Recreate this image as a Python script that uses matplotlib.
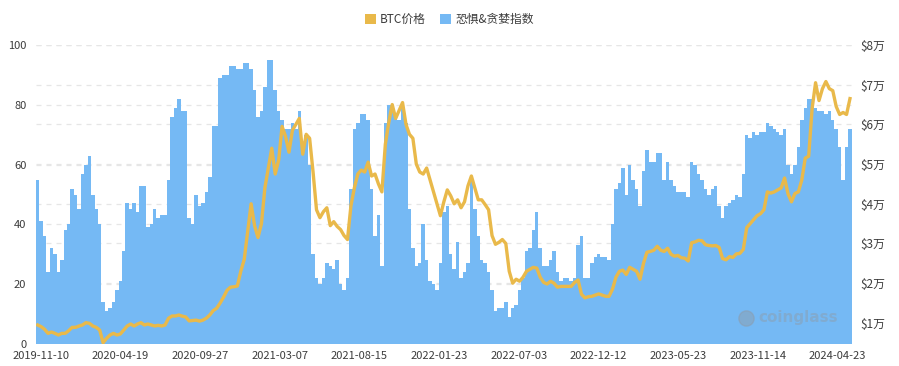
import numpy as np
import matplotlib.pyplot as plt
from matplotlib.patches import Patch
from matplotlib.transforms import blended_transform_factory

plt.rcParams['font.family'] = ['Noto Sans CJK SC', 'DejaVu Sans']

# weekly samples (Nov 2019 -> May 2024)
fear_greed = [
    55, 41, 36, 24, 32, 30, 24, 28, 38, 40, 52, 50, 45, 57, 60, 63, 50, 45, 40, 14,
    11, 12, 14, 18, 21, 31, 47, 45, 47, 44, 53, 53, 39, 40, 45, 42, 43, 43, 55, 76,
    79, 82,
    78, 78, 42, 40, 50, 46, 47, 51, 56, 73, 73, 89, 90, 90, 93, 93, 92, 92, 94, 94,
    92, 85, 76, 78, 86, 95, 95, 85, 78, 75, 72, 72, 74, 72, 78, 65, 70, 60, 30, 22,
    20, 22,
    27, 26, 25, 28, 20, 18, 22, 52, 72, 74, 77, 77, 75, 52, 36, 43, 26, 74, 80, 80,
    77, 75, 79, 74, 45, 32, 26, 27, 40, 28, 21, 20, 18, 27, 44, 46, 30, 25, 34, 22,
    24, 27,
    55, 45, 36, 28, 27, 24, 18, 11, 12, 12, 14, 9, 12, 13, 18, 22, 31, 32, 38, 44,
    32, 26, 26, 28, 31, 24, 21, 22, 22, 21, 22, 33, 36, 22, 22, 27, 29, 30, 29, 29,
    28, 40,
    52, 54, 59, 50, 60, 55, 52, 46, 58, 65, 61, 61, 64, 64, 55, 61, 55, 53, 51, 51,
    51, 49, 61, 60, 57, 55, 52, 50, 52, 53, 46, 42, 46, 47, 48, 50, 49, 57, 70, 69,
    71, 70,
    71, 71, 74, 73, 72, 71, 70, 72, 60, 57, 60, 66, 75, 79, 82, 82, 79, 78, 78, 77,
    78, 75, 72, 66, 55, 66, 72,
]

btc_price = [
    9470, 9050, 8380, 7370, 7700, 7370, 6950, 7370, 7370, 8040, 8880, 8880, 9220, 9470,
    10060, 9890, 9220, 8880, 8210, 5000, 6110, 6950, 7370, 6950, 7200, 8210, 9220, 9720,
    9220, 9720, 10060, 9470, 9720, 9470, 9220, 9390, 9220, 9470, 11150, 11740, 11740, 11990,
    11700, 11500, 10500, 10600, 10700, 10450, 10700, 11200, 12000, 13100, 13700, 15000,
    16500, 18200, 19000, 19100, 19300, 23000, 26000, 33000, 40000, 34500, 31500, 35000,
    44000, 49000, 54000, 47500, 51000, 59500, 57000, 53000, 58500, 60000, 61500, 52500,
    57500, 56500, 48000, 38500, 36500, 38000,
    39000, 34500, 35500, 34300, 33500, 32000, 31000, 39500, 44000, 47500, 48500, 48000,
    50500, 47000, 47500, 45000, 43000, 55000, 60500, 65000, 61500, 63500, 65500, 60000,
    57500, 56500, 50000, 48000, 47500, 49000, 46000, 43000, 40000, 37000, 40500, 43500,
    42000, 40000, 41000, 39000, 40500, 44500,
    47000, 44000, 41000, 41000, 39800, 38500, 32000, 29800, 30300, 31000, 30000, 23000,
    20000, 21000, 20500, 21500, 23000, 23500, 24000, 23800, 21500, 20200, 19800, 20500,
    20000, 19000, 19200, 19200, 19200, 19200, 20200, 20800, 17200, 16300, 16600, 16700,
    17000, 17300, 17000, 16700, 16700, 18500,
    21500, 23000, 23300, 22200, 24000, 23500, 23000, 21000, 25000, 27800, 28000, 28300,
    29300, 28300, 28000, 28800, 27300, 26800, 27000, 26400, 26300, 25600, 30200, 30400,
    30800, 30700, 29700, 29500, 29400, 29500, 29000, 26200, 25900, 26700, 26500, 27400,
    27500, 28500, 34000, 35000, 36000, 37000,
    37500, 38500, 43000, 42700, 43000, 43500, 44000, 46500, 42500, 40500, 42600, 43000,
    46000, 51500, 52000, 64000, 70500, 66000, 69000, 70800, 69000, 68500, 64500, 62500,
    63000, 62500, 66500,
]

x_labels = ['2019-11-10', '2020-04-19', '2020-09-27', '2021-03-07', '2021-08-15',
            '2022-01-23', '2022-07-03', '2022-12-12', '2023-05-23', '2023-11-14',
            '2024-04-23']
left_ticks = [20, 40, 60, 80, 100]
right_ticks = [10000, 20000, 30000, 40000, 50000, 60000, 70000, 80000]

blue = '#75b9f4'
gold = '#e9b94a'
grid_c = '#e6e6e6'
txt_c = '#3c3c3c'

days = np.arange(len(fear_greed)) * 7
n_days = days[-1] + 7

fig = plt.figure(figsize=(8.99, 3.66), dpi=100)
ax = fig.add_axes([36 / 899, 22 / 366, 815.7 / 899, 299 / 366])
ax2 = ax.twinx()

ax.bar(days, fear_greed, width=7, align='edge', color=blue, linewidth=0, zorder=2)
ax2.plot(days + 3.5, btc_price, color=gold, lw=2.4, solid_joinstyle='round', zorder=3)

ax.set_xlim(0, n_days)
ax.set_ylim(0, 100)
ax2.set_ylim(4685, 80000)

# grid lines for both y axes, kept behind the bars
for v in left_ticks:
    ax.axhline(v, color=grid_c, lw=0.9, ls=(0, (4, 4)), zorder=0)
tr = blended_transform_factory(ax.transAxes, ax2.transData)
for v in right_ticks:
    ax.plot([0, 1], [v, v], transform=tr, color=grid_c, lw=0.9, ls=(0, (4, 4)), zorder=0)

ax.set_yticks([0] + left_ticks)
ax.tick_params(axis='y', length=0, pad=7, labelsize=8, labelcolor=txt_c)
ax2.set_yticks(right_ticks)
ax2.set_yticklabels([f'${v // 10000}万' for v in right_ticks])
ax2.tick_params(axis='y', length=0, pad=6, labelsize=8.5, labelcolor=txt_c)

tick_pos = [10 + 162 * k for k in range(len(x_labels))]
ax.set_xticks(tick_pos)
ax.set_xticklabels(x_labels)
ax.tick_params(axis='x', length=0, pad=5, labelsize=8, labelcolor=txt_c)

for a in (ax, ax2):
    for s in a.spines.values():
        s.set_visible(False)

# watermark
ax.plot([0.871], [0.087], transform=ax.transAxes, marker='o', markersize=11,
        color='#8f9aa6', alpha=0.45, zorder=4, clip_on=False)
ax.text(0.935, 0.087, 'coinglass', transform=ax.transAxes, ha='center', va='center',
        fontsize=11, fontweight='bold', color='#8f9aa6', alpha=0.45, zorder=4,
        family=['DejaVu Sans'])

handles = [Patch(facecolor=gold, edgecolor='none', label='BTC价格'),
           Patch(facecolor=blue, edgecolor='none', label='恐惧&贪婪指数')]
fig.legend(handles=handles, loc='upper center', bbox_to_anchor=(0.5, 0.994), ncol=2,
           frameon=False, fontsize=8.5, handlelength=0.9, handleheight=0.9,
           handletextpad=0.4, columnspacing=1.2, labelcolor=txt_c)

fig.savefig('out.png', dpi=100, facecolor='white')
